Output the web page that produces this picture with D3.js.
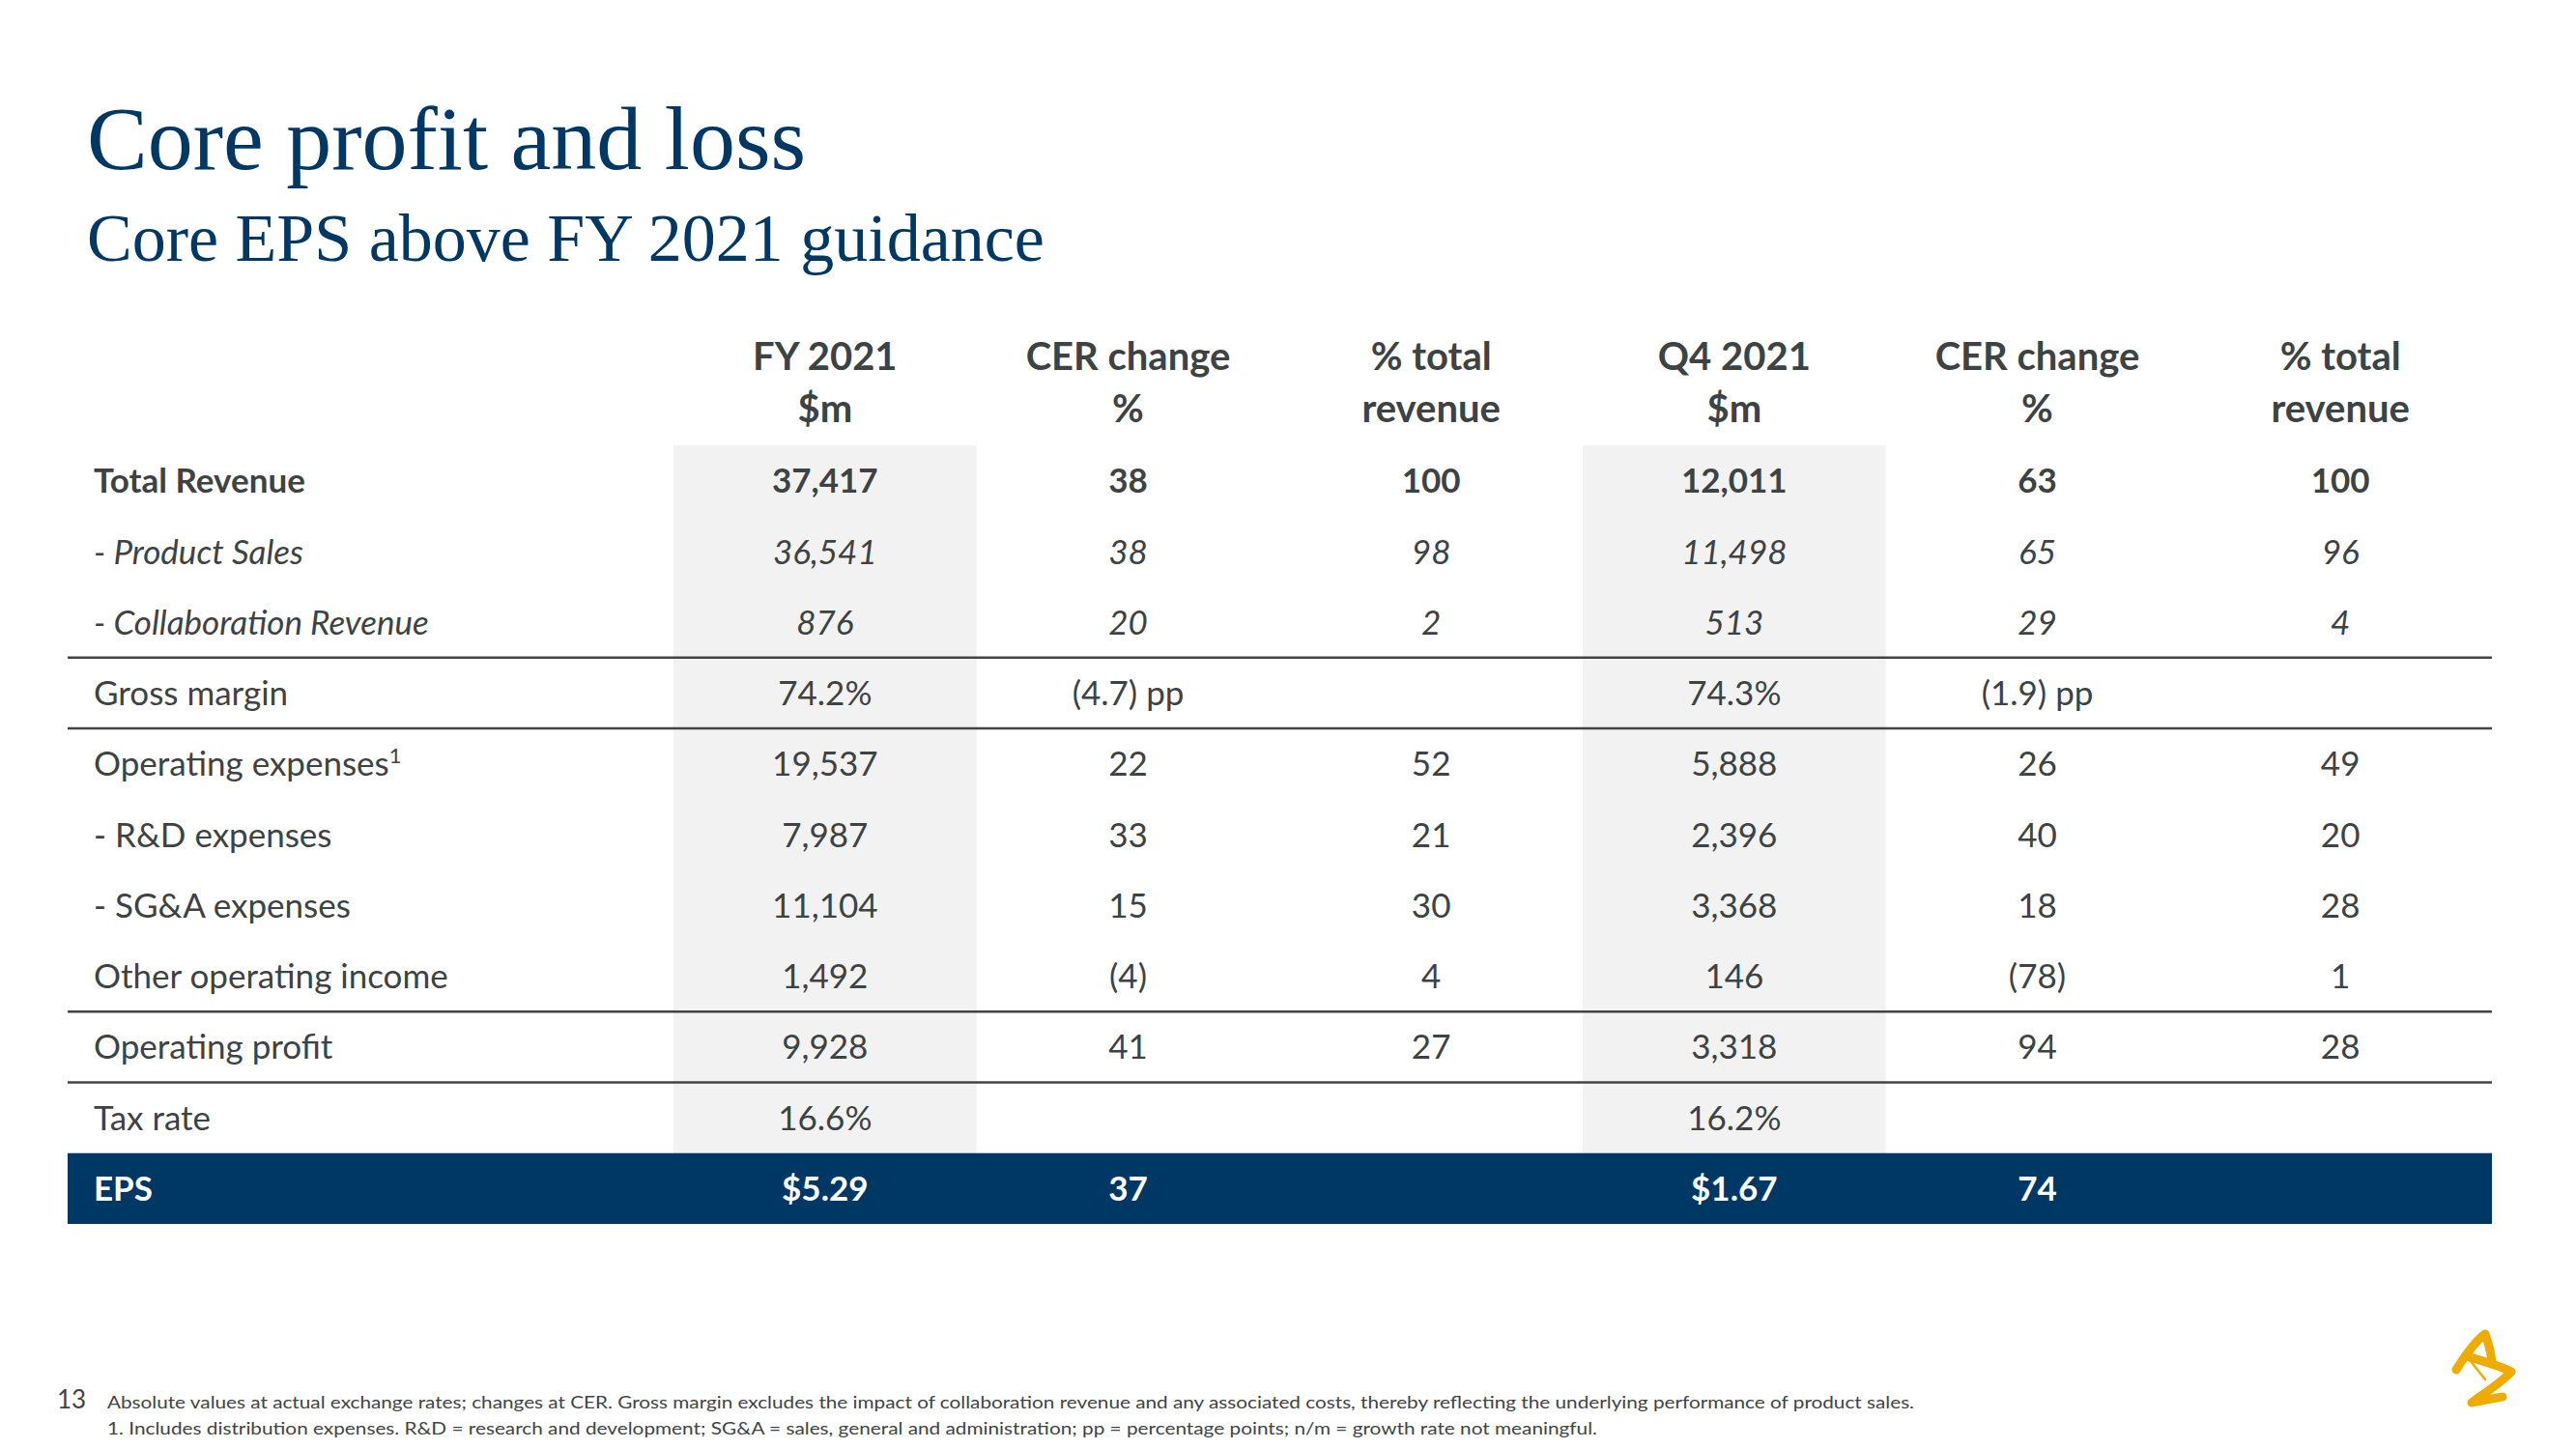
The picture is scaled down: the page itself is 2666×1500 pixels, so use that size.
<!DOCTYPE html>
<html>
<head>
<meta charset="utf-8">
<script src="https://cdn.jsdelivr.net/npm/d3@7"></script>
<style>
  html, body { margin: 0; padding: 0; background: #ffffff; }
  svg { display: block; }
</style>
</head>
<body>
<svg id="chart" width="2666" height="1500"></svg>
<script>
// ---------------- DATA ----------------
const title = "Core profit and loss";
const subtitle = "Core EPS above FY 2021 guidance";

const columnKeys = ["fy", "fyCer", "fyPct", "q4", "q4Cer", "q4Pct"];
const headerLine1 = ["FY 2021", "CER change", "% total", "Q4 2021", "CER change", "% total"];
const headerLine2 = ["$m", "%", "revenue", "$m", "%", "revenue"];

const rowLabels = [
  "Total Revenue", "- Product Sales", "- Collaboration Revenue", "Gross margin",
  "Operating expenses", "- R&D expenses", "- SG&A expenses", "Other operating income",
  "Operating profit", "Tax rate", "EPS"
];
const rowStyles = ["bold", "italic", "italic", "normal", "normal", "normal", "normal", "normal", "normal", "normal", "eps"];
const rowFootnote = ["", "", "", "", "1", "", "", "", "", "", ""];

const fy2021 = ["37,417", "36,541", "876", "74.2%", "19,537", "7,987", "11,104", "1,492", "9,928", "16.6%", "$5.29"];
const fyCer  = ["38", "38", "20", "(4.7) pp", "22", "33", "15", "(4)", "41", "", "37"];
const fyPct  = ["100", "98", "2", "", "52", "21", "30", "4", "27", "", ""];
const q42021 = ["12,011", "11,498", "513", "74.3%", "5,888", "2,396", "3,368", "146", "3,318", "16.2%", "$1.67"];
const q4Cer  = ["63", "65", "29", "(1.9) pp", "26", "40", "18", "(78)", "94", "", "74"];
const q4Pct  = ["100", "96", "4", "", "49", "20", "28", "1", "28", "", ""];

const shadedColumns = ["fy", "q4"];
const dividerAfterRows = [2, 3, 7, 8];

const pageNumber = "13";
const footnote1 = "Absolute values at actual exchange rates; changes at CER. Gross margin excludes the impact of collaboration revenue and any associated costs, thereby reflecting the underlying performance of product sales.";
const footnote2 = "1. Includes distribution expenses.  R&D = research and development; SG&A = sales, general and administration; pp = percentage points; n/m = growth rate not meaningful.";

// ---------------- STYLE ----------------
const NAVY = "#003865";
const TEXT = "#3d4242";
const SHADE = "#f2f2f2";
const LINE = "#404444";
const GOLD = "#f0ab00";
const SANS = "Lato, 'Open Sans', sans-serif";
const SERIF = "'Liberation Serif', 'DejaVu Serif', serif";

const columnValues = { fy: fy2021, fyCer: fyCer, fyPct: fyPct, q4: q42021, q4Cer: q4Cer, q4Pct: q4Pct };

const svg = d3.select("#chart");

// Scales
const tableLeft = 70, tableRight = 2579;
const x = d3.scaleBand().domain(columnKeys).range([697, tableRight]).padding(0);
const y = d3.scaleBand().domain(d3.range(rowLabels.length)).range([461, 1267]).padding(0);

// Title & subtitle
svg.append("text").attr("x", 90).attr("y", 175)
  .attr("font-family", SERIF).attr("font-size", 94).attr("fill", NAVY)
  .text(title);
svg.append("text").attr("x", 90).attr("y", 270)
  .attr("font-family", SERIF).attr("font-size", 70).attr("fill", NAVY)
  .text(subtitle);

// Shaded columns (down to start of EPS row)
svg.append("g").selectAll("rect").data(shadedColumns).join("rect")
  .attr("x", d => x(d)).attr("width", x.bandwidth())
  .attr("y", y(0)).attr("height", y(rowLabels.length - 1) - y(0))
  .attr("fill", SHADE);

// EPS row background
const epsIdx = rowStyles.indexOf("eps");
svg.append("rect")
  .attr("x", tableLeft).attr("width", tableRight - tableLeft)
  .attr("y", y(epsIdx)).attr("height", y.bandwidth())
  .attr("fill", NAVY);

// Divider lines
svg.append("g").selectAll("line").data(dividerAfterRows).join("line")
  .attr("x1", tableLeft).attr("x2", tableRight)
  .attr("y1", d => y(d) + y.bandwidth()).attr("y2", d => y(d) + y.bandwidth())
  .attr("stroke", LINE).attr("stroke-width", 2.5);

// Headers
const hdr = svg.append("g").attr("font-family", SANS).attr("font-weight", 700)
  .attr("font-size", 40).attr("fill", TEXT).attr("text-anchor", "middle");
hdr.selectAll("text.h1").data(columnKeys).join("text").attr("class", "h1")
  .attr("x", d => x(d) + x.bandwidth() / 2).attr("y", 383)
  .text((d, i) => headerLine1[i]);
hdr.selectAll("text.h2").data(columnKeys).join("text").attr("class", "h2")
  .attr("x", d => x(d) + x.bandwidth() / 2).attr("y", 437)
  .text((d, i) => headerLine2[i]);

// Row styling helpers
const FS = 35;
const baseOff = FS * 0.36;
function weight(i) { return (rowStyles[i] === "bold" || rowStyles[i] === "eps") ? 700 : 400; }
function fstyle(i) { return rowStyles[i] === "italic" ? "italic" : "normal"; }
function fcolor(i) { return rowStyles[i] === "eps" ? "#ffffff" : TEXT; }

// Row labels
const labels = svg.append("g").attr("font-family", SANS).attr("font-size", FS);
const lab = labels.selectAll("text").data(rowLabels).join("text")
  .attr("x", 97)
  .attr("y", (d, i) => y(i) + y.bandwidth() / 2 + baseOff)
  .attr("font-weight", (d, i) => weight(i))
  .attr("font-style", (d, i) => fstyle(i))
  .attr("fill", (d, i) => fcolor(i));
lab.append("tspan").text(d => d);
lab.filter((d, i) => rowFootnote[i] !== "").append("tspan")
  .attr("font-size", FS * 0.62).attr("dy", -FS * 0.38)
  .text(d => rowFootnote[rowLabels.indexOf(d)]);

// Cell values
const cells = svg.append("g").attr("font-family", SANS).attr("font-size", FS).attr("text-anchor", "middle");
columnKeys.forEach(k => {
  cells.append("g").selectAll("text").data(columnValues[k]).join("text")
    .attr("x", x(k) + x.bandwidth() / 2)
    .attr("y", (d, i) => y(i) + y.bandwidth() / 2 + baseOff)
    .attr("font-weight", (d, i) => weight(i))
    .attr("font-style", (d, i) => fstyle(i))
    .attr("fill", (d, i) => fcolor(i))
    .text(d => d);
});

// Footer
svg.append("text").attr("x", 59).attr("y", 1458)
  .attr("font-family", SANS).attr("font-size", 26).attr("fill", "#404444")
  .text(pageNumber);
svg.append("text").attr("x", 111).attr("y", 1458)
  .attr("font-family", SANS).attr("font-size", 18).attr("fill", "#404444")
  .attr("textLength", 1870).attr("lengthAdjust", "spacingAndGlyphs")
  .text(footnote1);
svg.append("text").attr("x", 111).attr("y", 1485)
  .attr("font-family", SANS).attr("font-size", 18).attr("fill", "#404444")
  .attr("textLength", 1542).attr("lengthAdjust", "spacingAndGlyphs")
  .text(footnote2);

// Logo (decorative swirl)
const logo = svg.append("g").attr("fill", "none").attr("stroke", GOLD)
  .attr("stroke-linecap", "round").attr("stroke-linejoin", "round");
logo.append("path")
  .attr("d", "M2542,1418 C2552,1402 2562,1388 2572,1381 C2576,1392 2578,1400 2579,1410")
  .attr("stroke-width", 9);
logo.append("path")
  .attr("d", "M2553,1404 C2570,1409 2588,1414 2599,1420 C2588,1432 2570,1443 2558,1452 C2570,1450 2582,1447 2590,1446")
  .attr("stroke-width", 9);
logo.append("path")
  .attr("d", "M2556,1408 L2572,1428")
  .attr("stroke-width", 2.5);
</script>
</body>
</html>
